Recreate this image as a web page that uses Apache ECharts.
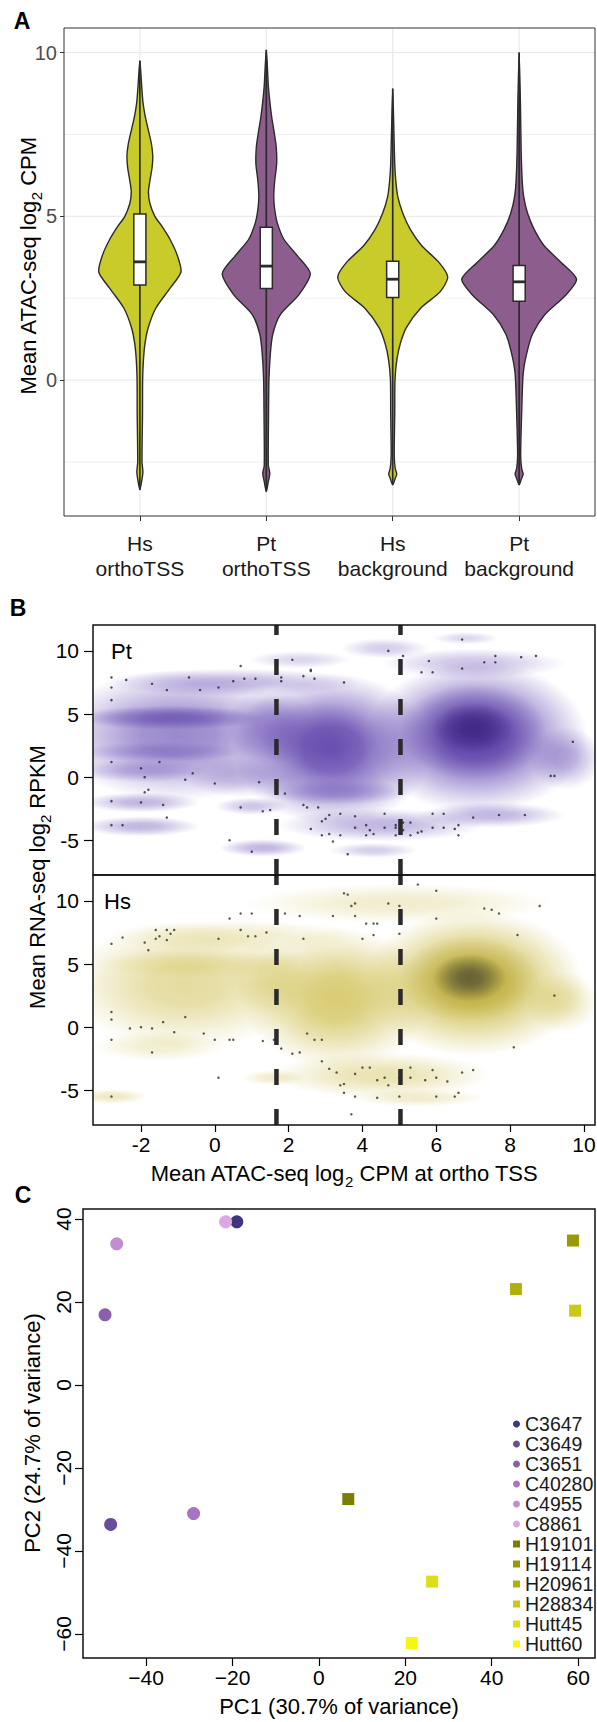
<!DOCTYPE html>
<html>
<head>
<meta charset="utf-8">
<script src="https://cdn.jsdelivr.net/npm/echarts@6/dist/echarts.min.js"></script>
<style>
  html, body { margin: 0; padding: 0; background: #ffffff; }
  #chart { width: 597px; height: 1722px; }
</style>
</head>
<body>
<div id="chart"></div>
<script>
// ---------- Panel A: ATAC-seq signal per region set ----------
const violinCategories = ['Hs\northoTSS', 'Pt\northoTSS', 'Hs\nbackground', 'Pt\nbackground'];
const violinSpecies = ['Hs', 'Pt', 'Hs', 'Pt'];
// density profiles: [log2 CPM, half width in category units]
const hsOrthoDensity = [[-3.35,0],[-3.05,0.016],[-2.8,0.024],[-2.5,0.017],[-1.0,0.021],[0,0.022],[0.6,0.028],[1.1,0.040],[1.6,0.066],[2.2,0.127],[2.8,0.238],[3.3,0.325],[3.8,0.297],[4.3,0.238],[4.7,0.174],[5.0,0.119],[5.4,0.079],[5.75,0.068],[6.1,0.080],[6.5,0.097],[6.85,0.102],[7.2,0.092],[7.65,0.066],[8.1,0.040],[8.5,0.024],[9.0,0.014],[9.75,0]];
const ptOrthoDensity = [[-3.4,0],[-3.1,0.016],[-2.85,0.028],[-2.6,0.016],[-1.0,0.018],[0,0.021],[0.8,0.032],[1.4,0.051],[2.0,0.111],[2.6,0.257],[3.25,0.348],[3.8,0.245],[4.3,0.139],[4.8,0.087],[5.2,0.067],[5.6,0.059],[6.1,0.067],[6.6,0.082],[7.1,0.079],[7.55,0.063],[8.0,0.044],[8.5,0.028],[9.0,0.016],[10.08,0]];
const hsBackgroundDensity = [[-3.2,0],[-3.0,0.020],[-2.87,0.032],[-2.7,0.020],[-2.3,0.012],[-1.0,0.016],[0,0.018],[0.6,0.032],[1.1,0.059],[1.6,0.108],[2.2,0.222],[2.7,0.376],[3.15,0.435],[3.6,0.364],[4.1,0.230],[4.6,0.139],[5.1,0.079],[5.6,0.040],[6.1,0.024],[6.6,0.016],[7.5,0.010],[8.9,0]];
const ptBackgroundDensity = [[-3.2,0],[-3.0,0.020],[-2.87,0.032],[-2.7,0.020],[-2.3,0.012],[-1.0,0.020],[0.2,0.032],[0.8,0.059],[1.4,0.105],[2.0,0.204],[2.6,0.370],[3.08,0.454],[3.6,0.330],[4.1,0.198],[4.6,0.119],[5.1,0.066],[5.6,0.036],[6.1,0.024],[7.0,0.016],[8.5,0.010],[10.0,0]];
const violinProfiles = [hsOrthoDensity, ptOrthoDensity, hsBackgroundDensity, ptBackgroundDensity];
const boxLower = [2.90, 2.80, 2.52, 2.41];
const boxMedian = [3.61, 3.48, 3.08, 3.00];
const boxUpper = [5.07, 4.67, 3.63, 3.50];
const atacTicks = [0, 5, 10];
const atacMinorTicks = [-2.5, 2.5, 7.5];

// ---------- Panel B: RNA-seq vs ATAC-seq at orthologous TSS ----------
const rnaTicks = [-5, 0, 5, 10];
const atacTssTicks = [-2, 0, 2, 4, 6, 8, 10];
const cutoffs = [1.67, 5.03];
// smoothed density patches: [x, y, x radius, y radius, opacity, shade level]
const ptDensity = [
  [7.1, 3.2, 3.0, 6.0, 0.92, 0], [7.0, 3.6, 2.0, 3.8, 0.55, 1], [7.0, 3.9, 1.1, 2.0, 0.55, 2],
  [3.2, 2.2, 2.7, 6.0, 0.90, 0], [2.8, 3.0, 1.6, 3.0, 0.30, 1], [3.3, -1.2, 2.0, 1.0, 0.38, 0],
  [1.5, 4.0, 1.2, 3.0, 0.45, 0], [0.8, 0.0, 1.6, 1.6, 0.32, 0],
  [-1.0, 3.3, 3.4, 5.2, 0.65, 0], [-1.2, 4.7, 2.6, 1.0, 0.50, 0], [-1.2, 4.7, 2.4, 0.9, 0.22, 1],
  [-1.5, 2.0, 2.2, 0.8, 0.32, 0],
  [0.5, 7.5, 3.5, 1.1, 0.38, 0], [-2.0, 0.5, 1.8, 0.9, 0.32, 0], [-2.0, -2.0, 1.6, 0.8, 0.40, 0],
  [-2.0, -3.9, 1.6, 0.8, 0.40, 0], [1.0, -2.3, 1.0, 0.7, 0.32, 0], [1.3, -5.6, 1.2, 0.7, 0.40, 0],
  [4.5, -3.8, 2.8, 1.3, 0.40, 0], [7.5, -3.0, 2.0, 1.0, 0.40, 0], [7.0, 9.0, 2.5, 1.2, 0.32, 0],
  [4.6, 10.2, 1.2, 0.8, 0.27, 0], [6.8, 11.0, 0.9, 0.5, 0.22, 0], [2.3, 9.3, 1.4, 0.7, 0.22, 0],
  [9.5, 1.5, 1.0, 2.5, 0.42, 0], [4.3, -5.8, 1.2, 0.6, 0.27, 0]
];
const hsDensity = [
  [7.0, 3.5, 3.0, 5.8, 0.92, 0], [6.9, 3.8, 1.9, 3.4, 0.48, 1], [6.9, 3.9, 1.0, 1.9, 0.75, 2],
  [3.3, 2.3, 2.6, 5.6, 0.72, 0], [-0.8, 3.3, 3.3, 5.0, 0.50, 0], [-0.5, 5.0, 2.8, 1.2, 0.22, 0],
  [1.5, 4.0, 1.2, 3.0, 0.28, 0], [0.5, 7.2, 3.5, 1.3, 0.26, 0], [5.0, 9.8, 4.2, 1.6, 0.26, 0],
  [4.5, -3.8, 3.0, 1.8, 0.40, 0], [-1.5, -1.5, 1.8, 1.2, 0.24, 0], [1.6, -4.0, 0.9, 0.6, 0.27, 0],
  [-2.8, -5.5, 1.0, 0.6, 0.32, 0], [5.5, -5.6, 1.8, 0.7, 0.27, 0], [9.4, 2.0, 1.0, 2.4, 0.38, 0]
];
const ptPoints = [
  [-2.8,7.9],[-2.8,7.1],[-2.8,6.1],[-2.4,7.7],[-1.7,7.4],[-1.3,6.9],[-0.7,7.9],[-0.4,6.9],[0.1,7.1],[0.5,7.6],[0.7,8.8],[0.8,7.8],[1.1,7.8],[1.8,7.9],[1.8,7.6],[2.1,9.3],[2.4,8.0],[2.6,8.4],[2.6,8.5],[2.7,7.8],[3.5,7.5],[4.7,10.0],[5.1,9.6],[5.8,9.2],[5.6,8.3],[5.9,8.3],[6.7,10.9],[6.7,8.6],[7.3,9.1],[7.6,9.6],[7.6,9.1],[8.3,9.5],[8.7,9.6],
  [-2.8,1.2],[-2.0,0.7],[-1.9,0.0],[-1.5,1.2],[-1.8,-1.0],[-1.9,-1.2],[-2.0,-2.0],[-2.8,-1.9],[-1.4,-2.2],[-1.3,-3.2],[-0.8,-0.2],[-0.6,0.3],[0.0,-0.5],[1.2,-0.4],[1.9,-1.3],[0.7,-2.4],[1.3,-2.7],[1.5,-2.6],[2.4,-2.2],[2.5,-2.4],[2.8,-2.4],[2.9,-3.5],[3.0,-3.3],[3.1,-3.0],[3.4,-2.9],[3.8,-3.1],[4.1,-3.8],[4.6,-2.9],[4.9,-3.8],[5.1,-3.6],[5.3,-3.6],[5.6,-4.3],[5.9,-2.9],[6.2,-2.9],[6.6,-3.8],[7.0,-3.2],[7.7,-3.0],[8.4,-3.0],[9.1,0.1],[9.2,0.1],[9.7,2.8],
  [-2.8,-3.8],[-2.5,-3.8],[0.4,-5.0],[1.0,-5.9],[2.6,-4.1],[2.9,-4.6],[3.1,-4.5],[3.2,-5.1],[3.4,-4.6],[3.6,-6.1],[3.8,-4.0],[4.2,-4.2],[4.1,-4.6],[4.3,-4.5],[4.6,-4.0],[4.9,-4.0],[5.1,-4.2],[5.5,-4.4],[5.9,-4.0],[6.2,-4.0],[6.5,-4.1],[6.6,-4.6],[4.9,-4.6],[5.3,-4.6]
];
const hsPoints = [
  [-2.8,6.6],[-2.5,7.1],[-1.9,6.7],[-1.8,6.1],[-1.6,7.7],[-1.5,7.2],[-1.3,6.9],[-1.3,7.7],[-1.2,7.4],[-1.1,7.7],[-1.6,7.0],[0.1,7.0],[0.4,8.6],[0.7,9.0],[1.0,9.0],[0.7,7.7],[0.9,7.2],[1.1,7.2],[1.4,7.5],[1.9,9.0],[2.3,8.8],[2.4,7.0],[3.2,8.8],[3.5,10.6],[3.6,10.5],[3.7,9.6],[3.8,9.8],[3.8,8.8],[4.1,8.2],[4.3,8.2],[4.4,8.2],[4.0,7.0],[4.3,7.3],[4.7,9.8],[5.0,9.6],[5.0,7.4],[5.5,11.3],[6.0,10.8],[6.0,8.6],[7.3,9.4],[7.5,9.3],[7.7,9.0],[8.2,7.3],[8.8,9.6],
  [-2.8,1.2],[-2.8,0.6],[-2.8,-1.0],[-2.3,-0.1],[-2.0,0.0],[-1.7,-0.1],[-1.4,0.4],[-0.8,0.8],[-1.1,-0.4],[-1.7,-2.0],[-0.3,-0.5],[0.0,-1.0],[0.4,-1.0],[0.5,-1.0],[1.3,-1.1],[1.8,-1.7],[2.1,-2.1],[2.3,-2.0],[2.5,-0.5],[2.7,-1.0],[2.9,-1.0],[1.6,-1.0],[2.9,-2.7],[3.1,-3.3],[3.3,-3.6],[3.5,-4.5],[3.4,-4.6],[3.8,-3.7],[4.0,-3.2],[4.2,-3.2],[4.4,-4.2],[4.6,-4.0],[4.7,-4.6],[5.0,-4.0],[5.3,-3.2],[5.3,-4.0],[5.7,-4.2],[5.9,-3.4],[6.0,-4.0],[6.3,-4.3],[6.7,-3.6],[7.0,-3.4],[8.1,-1.6],[9.2,2.5],
  [-2.8,-5.5],[0.1,-4.0],[3.5,-5.2],[3.8,-5.5],[4.4,-5.6],[5.0,-5.5],[6.0,-5.5],[6.5,-5.5],[6.6,-5.2],[3.7,-6.9]
];

// ---------- Panel C: PCA of samples ----------
const samples = ['C3647', 'C3649', 'C3651', 'C40280', 'C4955', 'C8861', 'H19101', 'H19114', 'H20961', 'H28834', 'Hutt45', 'Hutt60'];
const pc1 = [-19.0, -48.2, -49.5, -29.0, -46.8, -21.6, 6.8, 58.8, 45.6, 59.3, 26.2, 21.5];
const pc2 = [39.3, -33.6, 16.9, -31.0, 34.0, 39.3, -27.5, 34.8, 23.1, 17.9, -47.4, -62.2];
const pc1Ticks = [-40, -20, 0, 20, 40, 60];
const pc2Ticks = [-60, -40, -20, 0, 20, 40];

// ---------- styling ----------
const FONT = '"Liberation Sans", Arial, Helvetica, sans-serif';
const speciesFill = { Hs: '#C9CB2A', Pt: '#8D5E8D' };
const ptShades = ['100,72,178', '72,44,150', '42,22,108'];
const hsShades = ['202,184,62', '165,150,44', '75,74,51'];
const sampleColors = ['#3E3580', '#6A4C9C', '#8A60AE', '#A874C2', '#C28ED2', '#DDA6E6',
                      '#7D7D00', '#999906', '#B0B00E', '#C9C916', '#DEDE18', '#F6F610'];
const INK = '#2b2b2b';
const minus = v => String(v).replace('-', '\u2212');

const grids = [
  { left: 64, top: 28, width: 531, height: 488 },
  { left: 93, top: 625, width: 502, height: 250 },
  { left: 93, top: 875, width: 502, height: 250 },
  { left: 83, top: 1209, width: 512, height: 449 }
];

function blobRenderer(shades) {
  return function (params, api) {
    const c = api.coord([api.value(0), api.value(1)]);
    const s = api.size([api.value(2), api.value(3)]);
    const a = api.value(4);
    const rgb = shades[api.value(5)];
    const at = f => `rgba(${rgb},${(a * f).toFixed(3)})`;
    return {
      type: 'circle', x: c[0], y: c[1], scaleX: s[0] / s[1], silent: true,
      shape: { cx: 0, cy: 0, r: s[1] },
      style: {
        fill: {
          type: 'radial', x: 0.5, y: 0.5, r: 0.5,
          colorStops: [
            { offset: 0, color: at(1) },
            { offset: 0.3, color: at(0.9) },
            { offset: 0.55, color: at(0.6) },
            { offset: 0.8, color: at(0.25) },
            { offset: 1, color: at(0) }
          ]
        }
      }
    };
  };
}

function cutoffRenderer(params, api) {
  const cs = params.coordSys;
  const x = api.coord([api.value(0), 0])[0];
  return {
    type: 'line', silent: true,
    shape: { x1: x, y1: cs.y + cs.height, x2: x, y2: cs.y },
    style: { stroke: '#2a2a2a', lineWidth: 4.5, lineDash: [16, 24], lineCap: 'butt' }
  };
}

function gridLineRenderer(params, api) {
  const cs = params.coordSys;
  const vertical = api.value(0) === 1;
  const v = api.value(1);
  const minor = api.value(2) === 1;
  const style = { stroke: '#EBEBEB', lineWidth: minor ? 0.8 : 1.3 };
  if (vertical) {
    const x = api.coord([v, 0])[0];
    return { type: 'line', silent: true, shape: { x1: x, y1: cs.y, x2: x, y2: cs.y + cs.height }, style };
  }
  const y = api.coord([1, v])[1];
  return { type: 'line', silent: true, shape: { x1: cs.x, y1: y, x2: cs.x + cs.width, y2: y }, style };
}

function violinRenderer(params, api) {
  const i = api.value(0);
  const k = i - 1;
  const prof = violinProfiles[k];
  const right = prof.map(([v, w]) => api.coord([i + w, v]));
  const left = prof.slice(1, -1).reverse().map(([v, w]) => api.coord([i - w, v]));
  const lo = api.coord([i, prof[0][0]]);
  const hi = api.coord([i, prof[prof.length - 1][0]]);
  const bw = 0.048;
  const q1 = api.coord([i - bw, boxLower[k]]);
  const q3 = api.coord([i + bw, boxUpper[k]]);
  const md1 = api.coord([i - bw, boxMedian[k]]);
  const md2 = api.coord([i + bw, boxMedian[k]]);
  return {
    type: 'group', silent: true,
    children: [
      { type: 'polygon', shape: { points: right.concat(left), smooth: 0.25 },
        style: { fill: speciesFill[violinSpecies[k]], stroke: INK, lineWidth: 1.4 } },
      { type: 'line', shape: { x1: lo[0], y1: lo[1], x2: hi[0], y2: hi[1] },
        style: { stroke: INK, lineWidth: 1.7 } },
      { type: 'rect', shape: { x: q1[0], y: q3[1], width: q3[0] - q1[0], height: q1[1] - q3[1] },
        style: { fill: '#ffffff', stroke: INK, lineWidth: 1.5 } },
      { type: 'line', shape: { x1: md1[0], y1: md1[1], x2: md2[0], y2: md2[1] },
        style: { stroke: INK, lineWidth: 2.8 } }
    ]
  };
}

const gridLineData = [];
atacTicks.forEach(v => gridLineData.push([0, v, 0]));
atacMinorTicks.forEach(v => gridLineData.push([0, v, 1]));
violinCategories.forEach((c, i) => gridLineData.push([1, i + 1, 0]));

const tickLabel = { fontFamily: FONT, fontSize: 21, color: '#000' };
const noLine = { show: false, onZero: false };

const xAxes = [
  { gridIndex: 0, type: 'value', min: 0.4, max: 4.6,
    axisLine: noLine, splitLine: { show: false },
    axisTick: { customValues: [1, 2, 3, 4], length: 5, lineStyle: { color: '#333', width: 1 } },
    axisLabel: { customValues: [1, 2, 3, 4], formatter: v => violinCategories[Math.round(v) - 1],
      fontFamily: FONT, fontSize: 21, lineHeight: 25, color: '#1a1a1a', margin: 15 } },
  { gridIndex: 1, type: 'value', min: -3.3, max: 10.3, show: false, axisLine: noLine },
  { gridIndex: 2, type: 'value', min: -3.3, max: 10.3,
    axisLine: noLine, splitLine: { show: false },
    axisTick: { customValues: atacTssTicks, length: 7, lineStyle: { color: '#000', width: 1.2 } },
    axisLabel: Object.assign({ customValues: atacTssTicks, margin: 9 }, tickLabel) },
  { gridIndex: 3, type: 'value', min: -54.6, max: 63.9,
    axisLine: noLine, splitLine: { show: false },
    axisTick: { customValues: pc1Ticks, length: 8, lineStyle: { color: '#000', width: 1.2 } },
    axisLabel: Object.assign({ customValues: pc1Ticks, formatter: minus, margin: 9 }, tickLabel) }
];

const rnaAxis = gi => ({ gridIndex: gi, type: 'value', min: -7.75, max: 12.05,
  axisLine: noLine, splitLine: { show: false },
  axisTick: { customValues: rnaTicks, length: 9, lineStyle: { color: '#000', width: 1.2 } },
  axisLabel: Object.assign({ customValues: rnaTicks, margin: 14 }, tickLabel) });

const yAxes = [
  { gridIndex: 0, type: 'value', min: -4.15, max: 10.75,
    axisLine: noLine, splitLine: { show: false },
    axisTick: { customValues: atacTicks, length: 4, lineStyle: { color: '#333', width: 1 } },
    axisLabel: { customValues: atacTicks, fontFamily: FONT, fontSize: 20, color: '#4D4D4D', margin: 7 } },
  rnaAxis(1),
  rnaAxis(2),
  { gridIndex: 3, type: 'value', min: -65.8, max: 42.4,
    axisLine: noLine, splitLine: { show: false },
    axisTick: { customValues: pc2Ticks, length: 8, lineStyle: { color: '#000', width: 1.2 } },
    axisLabel: Object.assign({ customValues: pc2Ticks, formatter: minus, rotate: 90, margin: 9 }, tickLabel) }
];

const series = [
  { type: 'custom', name: 'grid', xAxisIndex: 0, yAxisIndex: 0, data: gridLineData,
    renderItem: gridLineRenderer, silent: true, z: 0 },
  { type: 'custom', name: 'violins', xAxisIndex: 0, yAxisIndex: 0,
    data: violinCategories.map((c, i) => [i + 1]), renderItem: violinRenderer, silent: true, z: 2 },
  { type: 'custom', name: 'Pt density', xAxisIndex: 1, yAxisIndex: 1, data: ptDensity,
    renderItem: blobRenderer(ptShades), clip: true, silent: true, z: 1 },
  { type: 'scatter', name: 'Pt genes', xAxisIndex: 1, yAxisIndex: 1, data: ptPoints,
    symbolSize: 2.5, itemStyle: { color: '#2a2238' }, silent: true, z: 2 },
  { type: 'custom', name: 'Pt cutoffs', xAxisIndex: 1, yAxisIndex: 1, data: cutoffs.map(v => [v]),
    renderItem: cutoffRenderer, silent: true, z: 3 },
  { type: 'custom', name: 'Hs density', xAxisIndex: 2, yAxisIndex: 2, data: hsDensity,
    renderItem: blobRenderer(hsShades), clip: true, silent: true, z: 1 },
  { type: 'scatter', name: 'Hs genes', xAxisIndex: 2, yAxisIndex: 2, data: hsPoints,
    symbolSize: 2.5, itemStyle: { color: '#3a3420' }, silent: true, z: 2 },
  { type: 'custom', name: 'Hs cutoffs', xAxisIndex: 2, yAxisIndex: 2, data: cutoffs.map(v => [v]),
    renderItem: cutoffRenderer, silent: true, z: 3 }
];
samples.forEach((name, i) => {
  const chimp = name.charAt(0) === 'C';
  series.push({
    type: 'scatter', name, xAxisIndex: 3, yAxisIndex: 3,
    data: [[pc1[i], pc2[i]]],
    symbol: chimp ? 'circle' : 'rect', symbolSize: chimp ? 13 : 12,
    itemStyle: { color: sampleColors[i], opacity: 1 }, silent: true, z: 3
  });
});

function frame(g, color, width) {
  return { type: 'rect', z: 100, silent: true,
    shape: { x: g.left, y: g.top, width: g.width, height: g.height },
    style: { fill: 'none', stroke: color, lineWidth: width } };
}
function label(text, x, y, opts) {
  return Object.assign({ type: 'text', x, y, z: 100, silent: true,
    style: Object.assign({ text, fill: '#000', font: `22px ${FONT}`, textAlign: 'center', textVerticalAlign: 'middle' }, (opts && opts.style) || {}) },
    opts && opts.rotation ? { rotation: opts.rotation } : {});
}
const richTitle = {
  a: { fontFamily: FONT, fontSize: 22, fill: '#000', lineHeight: 26 },
  s: { fontFamily: FONT, fontSize: 15, fill: '#000', lineHeight: 32, verticalAlign: 'bottom' }
};
function subTitle(parts, x, y, rotation) {
  return { type: 'text', x, y, rotation: rotation || 0, z: 100, silent: true,
    style: { text: parts, rich: richTitle, textAlign: 'center', textVerticalAlign: 'middle' } };
}

const graphics = [
  frame(grids[0], '#333333', 1),
  frame(grids[1], '#111111', 1.5),
  frame(grids[2], '#111111', 1.5),
  frame(grids[3], '#111111', 1.5),
  label('A', 22, 21, { style: { font: `bold 23px ${FONT}` } }),
  label('B', 18, 608, { style: { font: `bold 23px ${FONT}` } }),
  label('C', 23, 1195, { style: { font: `bold 23px ${FONT}` } }),
  subTitle('{a|Mean ATAC-seq log}{s|2}{a| CPM}', 28, 266, Math.PI / 2),
  subTitle('{a|Mean RNA-seq log}{s|2}{a| RPKM}', 37, 877, Math.PI / 2),
  subTitle('{a|Mean ATAC-seq log}{s|2}{a| CPM at ortho TSS}', 344, 1173, 0),
  label('PC2 (24.7% of variance)', 32, 1433, { rotation: Math.PI / 2 }),
  label('PC1 (30.7% of variance)', 339, 1706),
  label('Pt', 111, 651, { style: { textAlign: 'left' } }),
  label('Hs', 104, 901, { style: { textAlign: 'left' } })
];

const option = {
  animation: false,
  backgroundColor: '#ffffff',
  textStyle: { fontFamily: FONT },
  grid: grids.map(g => Object.assign({ outerBoundsMode: 'none' }, g)),
  xAxis: xAxes,
  yAxis: yAxes,
  legend: {
    orient: 'vertical', left: 513, top: 1414, padding: 0,
    itemWidth: 7, itemHeight: 7, itemGap: 0, selectedMode: false,
    textStyle: { fontFamily: FONT, fontSize: 19.5, lineHeight: 19.2, color: '#1a1a1a' },
    data: samples.map((n, i) => ({ name: n, icon: n.charAt(0) === 'C' ? 'circle' : 'rect' }))
  },
  graphic: { elements: graphics },
  series
};

const chart = echarts.init(document.getElementById('chart'), null, { renderer: 'svg', width: 597, height: 1722 });
chart.setOption(option);
</script>
</body>
</html>
